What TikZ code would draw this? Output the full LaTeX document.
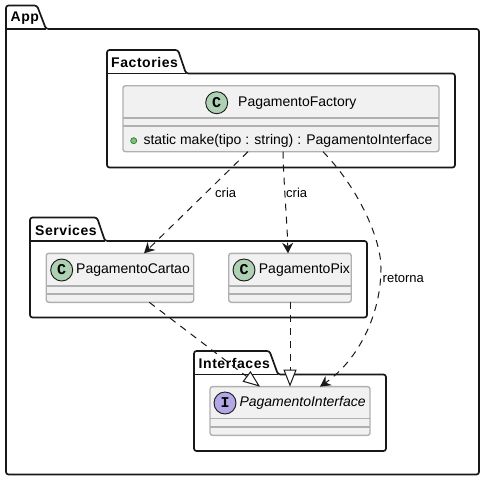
\documentclass[tikz,border=0pt]{standalone}
\usepackage{fontspec}
\setmainfont{Liberation Sans}
\newfontfamily\iconfont{Liberation Mono}
\usetikzlibrary{arrows.meta}
\definecolor{inkdark}{HTML}{181818}
\definecolor{classgrey}{HTML}{B0B0B0}
\definecolor{classfill}{HTML}{F1F1F1}
\definecolor{iconC}{HTML}{ADD1B2}
\definecolor{iconI}{HTML}{B4A7E5}
\tikzset{
  pkgline/.style={draw=inkdark,line width=1.7pt,fill=white,rounded corners=2.5pt,line join=round},
  pkgtab/.style={draw=inkdark,line width=1.2pt},
  pkglabel/.style={anchor=west,inner sep=0pt,font=\fontsize{14}{16}\selectfont\bfseries\addfontfeature{LetterSpace=4}},
  classbox/.style={draw=classgrey,line width=1.4pt,fill=classfill,rounded corners=2.5pt,inner sep=0pt,outer sep=0pt},
  classline/.style={draw=classgrey,line width=1.4pt},
  classtext/.style={anchor=west,inner sep=0pt,font=\fontsize{14}{16}\selectfont},
  iconbox/.style={circle,draw=inkdark,line width=0.9pt,minimum size=22pt,inner sep=0pt,font=\iconfont\fontsize{15}{16}\selectfont\bfseries},
  linktext/.style={anchor=west,inner sep=0pt,font=\fontsize{13}{15}\selectfont},
  depends/.style={draw=inkdark,line width=1pt,dash pattern=on 7pt off 6pt,-{Stealth[length=10.5pt,width=11pt,inset=3.5pt]}},
  realizes/.style={draw=inkdark,line width=1pt,dash pattern=on 7pt off 6pt,-{Triangle[open,fill=white,length=17pt,width=13pt]}},
}
\begin{document}
\begin{tikzpicture}[x=1pt,y=-1pt]
\useasboundingbox (0,0) rectangle (486,482);
% packages
\draw[pkgline] (6,29) -- (6,5.5) -- (37,5.5) -- (46,29) -- (479,29) -- (479,474.5) -- (6,474.5) -- cycle;
\draw[pkgtab] (6,29) -- (46,29);
\node[pkglabel] (labelapp) at (10.5,18) {App};
\draw[pkgline] (107,73.5) -- (107,50) -- (178,50) -- (186,73.5) -- (455,73.5) -- (455,167.5) -- (107,167.5) -- cycle;
\draw[pkgtab] (107,73.5) -- (186,73.5);
\node[pkglabel] (labelfactories) at (111,62) {Factories};
\draw[pkgline] (30,241) -- (30,217.5) -- (97,217.5) -- (105,241) -- (367,241) -- (367,317.5) -- (30,317.5) -- cycle;
\draw[pkgtab] (30,241) -- (105,241);
\node[pkglabel] (labelservices) at (35,230) {Services};
\draw[pkgline] (194,374.5) -- (194,351) -- (269.5,351) -- (278,374.5) -- (386,374.5) -- (386,451) -- (194,451) -- cycle;
\draw[pkgtab] (194,374.5) -- (278,374.5);
\node[pkglabel] (labelinterfaces) at (198.5,363) {Interfaces};
% classes
\node[classbox,minimum width=316pt,minimum height=66pt] (factory) at (281,118.7) {};
\draw[classline] (123,118) -- (439,118);
\draw[classline] (123,126) -- (439,126);
\node[iconbox,fill=iconC] (iconfactory) at (216.7,102.7) {C};
\node[classtext] (namefactory) at (238,102.7) {PagamentoFactory};
\node[circle,draw=green!40!black!80,fill=green!50!black!50,line width=0.8pt,minimum size=6pt,inner sep=0pt] (bulletmake) at (133.7,140.7) {};
\node[classtext] (makefactory) at (143.3,140.7) {static make(tipo : string) : PagamentoInterface};
\node[classbox,minimum width=147.5pt,minimum height=49pt] (cartao) at (120,277.8) {};
\draw[classline] (46.3,286) -- (193.7,286);
\draw[classline] (46.3,294) -- (193.7,294);
\node[iconbox,fill=iconC] (iconcartao) at (61.7,270) {C};
\node[classtext] (namecartao) at (76,270) {PagamentoCartao};
\node[classbox,minimum width=122.5pt,minimum height=49pt] (pix) at (290,277.8) {};
\draw[classline] (228.7,286) -- (351.3,286);
\draw[classline] (228.7,294) -- (351.3,294);
\node[iconbox,fill=iconC] (iconpix) at (244,270) {C};
\node[classtext] (namepix) at (258.7,270) {PagamentoPix};
\node[classbox,minimum width=160pt,minimum height=48.7pt] (interface) at (290,411) {};
\draw[classline] (210,418.7) -- (370,418.7);
\draw[classline] (210,427) -- (370,427);
\node[iconbox,fill=iconI] (iconinterface) at (225,403) {I};
\node[classtext,font=\fontsize{14}{16}\selectfont\itshape] (nameinterface) at (239.3,403) {PagamentoInterface};
% connectors
\coordinate (retornabend) at (381,268);
\draw[depends] ([xshift=-33]factory.south) -- ([xshift=24]cartao.north);
\draw[depends] ([xshift=2]factory.south) .. controls (284,190) and (287,220) .. ([xshift=-2]pix.north);
\draw[depends] ([xshift=42]factory.south) .. controls (360,190) and (381,240) .. (retornabend) .. controls (381,315) and (358,360) .. ([xshift=30]interface.north);
\draw[realizes] ([xshift=29.3]cartao.south) -- ([xshift=-30]interface.north);
\draw[realizes] (pix.south) -- (interface.north);
\node[linktext] (criacartao) at (215,193) {cria};
\node[linktext] (criapix) at (286,193) {cria};
\node[linktext] (retorna) at (382.5,278) {retorna};
\end{tikzpicture}
\end{document}
